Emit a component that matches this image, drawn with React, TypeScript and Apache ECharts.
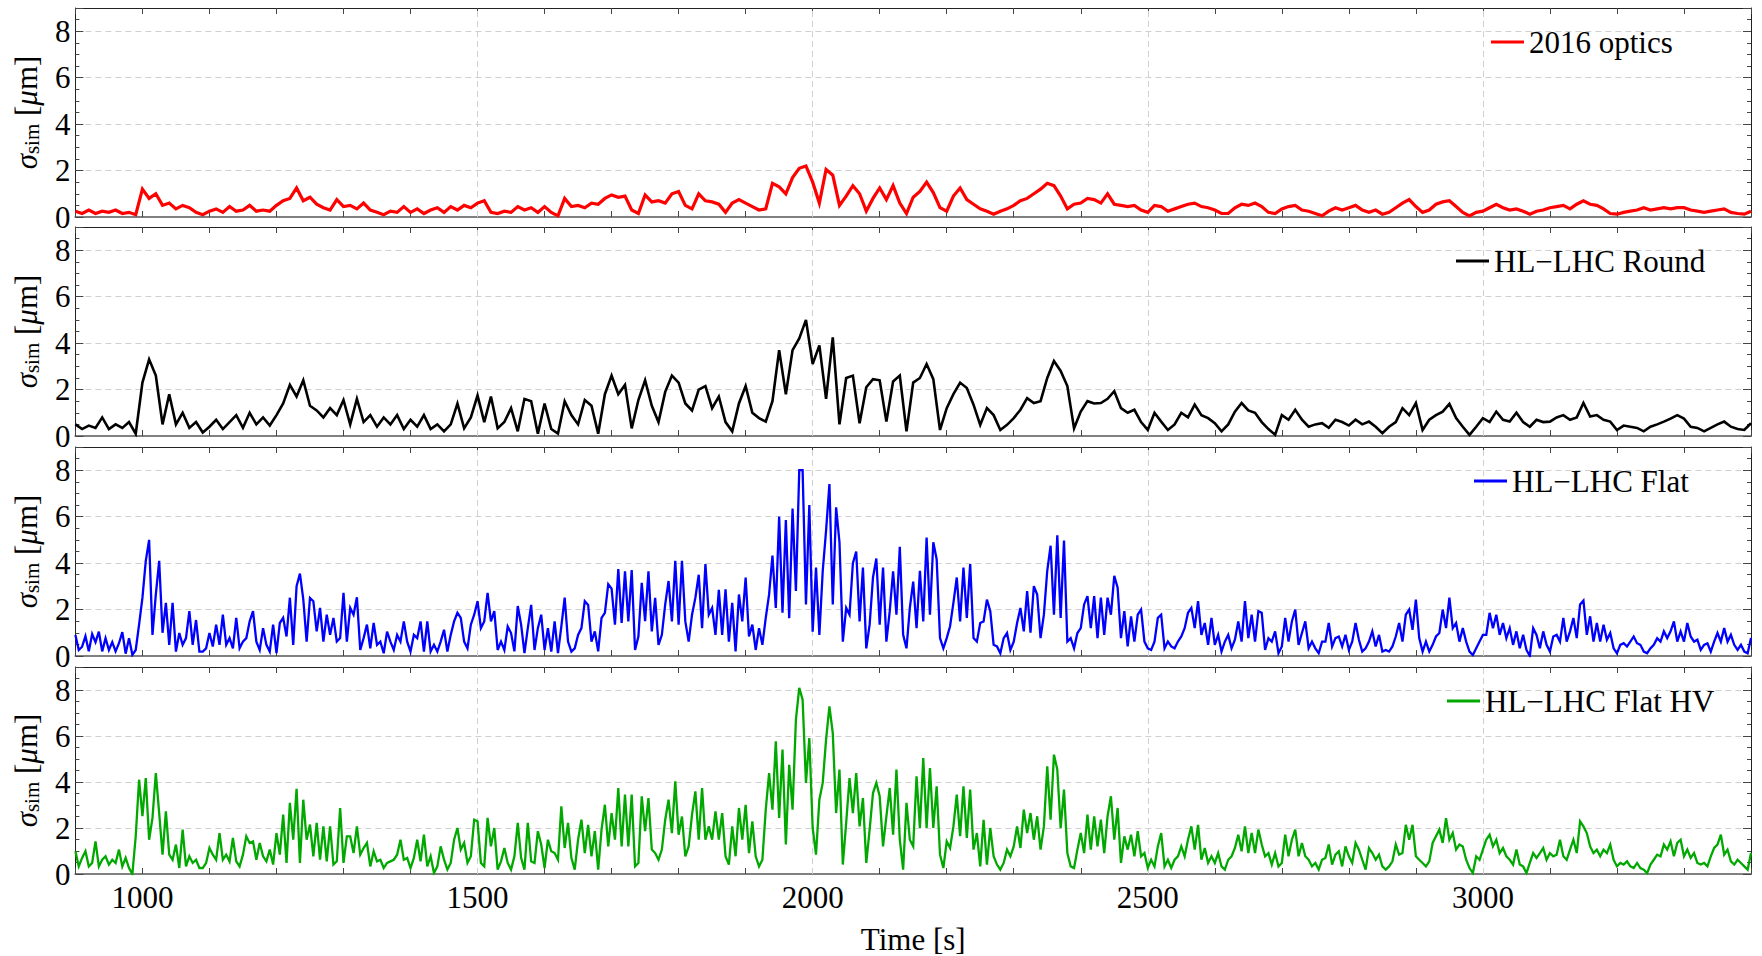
import { useEffect, useRef } from "react";
import * as echarts from "echarts";

// sampling grid of the simulated signals (seconds)
const T0 = 900;
const STEPS = [10, 10, 5, 5];

const SERIES_NAMES = ["2016 optics", "HL\u2212LHC Round", "HL\u2212LHC Flat", "HL\u2212LHC Flat HV"];
const COLORS = ["#ff0000", "#000000", "#0000ff", "#00a800"];
const LINE_WIDTHS = [3.2, 2.6, 2.3, 2.3];

const X_GRID_LINES = [1500, 2000, 2500, 3000];
const X_TICK_LABELS = [1000, 1500, 2000, 2500, 3000];
const Y_TICK_LABELS = [0, 2, 4, 6, 8];

// 10 s sampling
const OPTICS_2016 = [
  0.25, 0.15, 0.3, 0.15, 0.25, 0.2, 0.3, 0.15, 0.2, 0.1,
  1.2, 0.8, 1.0, 0.5, 0.6, 0.35, 0.5, 0.4, 0.2, 0.1,
  0.25, 0.35, 0.2, 0.45, 0.25, 0.3, 0.5, 0.25, 0.3, 0.25,
  0.5, 0.7, 0.8, 1.25, 0.7, 0.85, 0.55, 0.4, 0.3, 0.75,
  0.45, 0.5, 0.35, 0.6, 0.3, 0.2, 0.1, 0.25, 0.2, 0.45,
  0.2, 0.35, 0.15, 0.3, 0.4, 0.2, 0.45, 0.3, 0.5, 0.4,
  0.6, 0.7, 0.2, 0.15, 0.25, 0.2, 0.45, 0.3, 0.4, 0.2,
  0.45, 0.2, 0.05, 0.8, 0.45, 0.5, 0.4, 0.6, 0.55, 0.8,
  0.95, 0.85, 0.9, 0.3, 0.15, 0.95, 0.65, 0.7, 0.6, 1.0,
  1.1, 0.5, 0.35, 1.0, 0.7, 0.65, 0.55, 0.2, 0.6, 0.75,
  0.6, 0.45, 0.3, 0.35, 1.45, 1.3, 1.0, 1.7, 2.1, 2.2,
  1.5, 0.6, 2.05, 1.8, 0.5, 0.9, 1.35, 1.0, 0.25, 0.8,
  1.25, 0.75, 1.35, 0.6, 0.15, 0.85, 1.1, 1.5, 1.05, 0.4,
  0.25, 0.9, 1.25, 0.75, 0.55, 0.35, 0.25, 0.12, 0.25, 0.35,
  0.5, 0.7, 0.8, 1.0, 1.2, 1.45, 1.35, 0.9, 0.35, 0.55,
  0.6, 0.8, 0.75, 0.6, 1.0, 0.55, 0.5, 0.45, 0.5, 0.3,
  0.2, 0.5, 0.45, 0.25, 0.35, 0.45, 0.55, 0.6, 0.45, 0.4,
  0.3, 0.15, 0.15, 0.4, 0.55, 0.5, 0.6, 0.45, 0.2, 0.15,
  0.35, 0.45, 0.5, 0.3, 0.25, 0.15, 0.05, 0.25, 0.4, 0.3,
  0.4, 0.5, 0.3, 0.2, 0.3, 0.12, 0.2, 0.4, 0.6, 0.75,
  0.45, 0.2, 0.3, 0.55, 0.65, 0.7, 0.45, 0.2, 0.05, 0.2,
  0.25, 0.4, 0.55, 0.4, 0.3, 0.35, 0.25, 0.12, 0.25, 0.3,
  0.4, 0.45, 0.5, 0.35, 0.55, 0.7, 0.55, 0.5, 0.35, 0.15,
  0.12, 0.2, 0.25, 0.3, 0.4, 0.3, 0.35, 0.4, 0.35, 0.4,
  0.4, 0.3, 0.25, 0.2, 0.25, 0.3, 0.35, 0.2, 0.15, 0.12,
  0.25,
];

// 10 s sampling
const HL_ROUND = [
  0.5, 0.3, 0.45, 0.35, 0.8, 0.3, 0.5, 0.35, 0.6, 0.1,
  2.3, 3.3, 2.6, 0.5, 1.8, 0.5, 1.0, 0.35, 0.6, 0.15,
  0.4, 0.7, 0.3, 0.6, 0.9, 0.35, 1.0, 0.5, 0.8, 0.45,
  0.9, 1.4, 2.2, 1.7, 2.4, 1.3, 1.1, 0.8, 1.2, 0.9,
  1.55, 0.5, 1.6, 0.6, 0.9, 0.4, 0.8, 0.5, 0.9, 0.3,
  0.7, 0.4, 0.9, 0.3, 0.5, 0.2, 0.5, 1.4, 0.33, 0.8,
  1.75, 0.6, 1.7, 0.33, 0.6, 1.2, 0.2, 1.6, 1.5, 0.1,
  1.4, 0.3, 0.1, 1.5, 0.9, 0.5, 1.55, 1.3, 0.1, 1.8,
  2.6, 1.8, 2.2, 0.33, 1.55, 2.4, 1.3, 0.6, 1.9, 2.6,
  2.3, 1.4, 1.1, 2.0, 2.15, 1.2, 1.7, 0.6, 0.2, 1.4,
  2.15, 1.0, 0.77, 0.62, 1.5, 3.7, 1.8, 3.7, 4.2, 5.0,
  3.1, 3.9, 1.6, 4.25, 0.5, 2.5, 2.6, 0.55, 2.1, 2.45,
  2.4, 0.62, 2.35, 2.6, 0.2, 2.3, 2.5, 3.1, 2.45, 0.26,
  1.2, 1.8, 2.3, 2.07, 1.35, 0.48, 1.2, 0.9, 0.26, 0.48,
  0.77, 1.13, 1.63, 1.42, 1.5, 2.5, 3.23, 2.8, 2.15, 0.33,
  1.05, 1.5, 1.4, 1.42, 1.6, 1.93, 1.2, 1.0, 1.13, 0.6,
  0.26, 1.0, 0.62, 0.26, 0.5, 1.0, 0.8, 1.35, 0.9, 0.77,
  0.55, 0.2, 0.5, 1.05, 1.42, 1.1, 1.0, 0.6, 0.3, 0.05,
  0.9, 0.7, 1.13, 0.7, 0.4, 0.5, 0.55, 0.35, 0.7, 0.6,
  0.45, 0.7, 0.5, 0.62, 0.4, 0.12, 0.4, 0.6, 1.2, 0.9,
  1.42, 0.26, 0.7, 0.9, 1.05, 1.38, 0.77, 0.4, 0.05, 0.4,
  0.77, 0.6, 1.05, 0.7, 0.62, 1.0, 0.6, 0.4, 0.7, 0.6,
  0.62, 0.8, 0.9, 0.7, 0.8, 1.42, 0.84, 0.9, 0.7, 0.62,
  0.26, 0.45, 0.4, 0.35, 0.2, 0.4, 0.5, 0.62, 0.75, 0.9,
  0.75, 0.4, 0.35, 0.2, 0.35, 0.5, 0.62, 0.4, 0.3, 0.26,
  0.55,
];

// 5 s sampling
const HL_FLAT = [
  0.9, 0.26, 0.4, 0.85, 0.2, 0.95, 0.6, 1.05, 0.2, 0.77, 0.26, 0.6, 0.2, 0.55, 1.03, 0.1, 0.77, 0.05, 0.26, 1.35,
  2.5, 4.1, 5.0, 0.91, 2.65, 4.1, 1.0, 2.29, 0.48, 2.29, 0.19, 0.99, 0.48, 0.77, 1.93, 0.48, 1.55, 0.19, 0.19, 0.33,
  0.99, 0.41, 1.35, 0.48, 1.78, 0.48, 0.77, 0.33, 1.64, 0.33, 0.62, 0.77, 1.49, 1.93, 0.62, 0.26, 1.2, 0.48, 0.19, 1.35,
  0.12, 1.42, 1.64, 0.84, 2.51, 0.48, 3.01, 3.55, 2.45, 0.62, 2.5, 2.36, 1.06, 2.07, 0.62, 1.78, 0.91, 1.64, 0.62, 0.77,
  2.72, 0.62, 2.07, 1.78, 2.53, 0.26, 0.77, 1.35, 0.33, 1.42, 0.48, 0.62, 0.12, 1.05, 0.62, 0.26, 0.91, 0.62, 1.49, 0.62,
  0.19, 0.91, 0.77, 1.49, 0.19, 1.49, 0.19, 0.48, 0.19, 0.62, 1.13, 0.19, 0.91, 1.49, 1.86, 1.64, 0.62, 0.33, 1.35, 1.78,
  2.36, 1.2, 1.49, 2.72, 1.49, 1.93, 0.26, 0.62, 0.26, 1.27, 0.99, 0.2, 2.15, 1.35, 0.12, 1.2, 2.2, 0.26, 1.2, 1.78,
  0.26, 1.2, 0.19, 1.49, 0.12, 1.27, 2.51, 0.62, 0.19, 0.33, 0.91, 1.2, 2.36, 2.2, 0.62, 1.06, 0.2, 1.64, 1.86, 3.09,
  2.9, 1.35, 3.74, 1.42, 3.65, 1.49, 3.7, 0.26, 0.84, 3.15, 1.5, 3.65, 1.06, 2.5, 0.48, 0.91, 2.22, 3.23, 1.49, 4.1,
  1.35, 4.1, 1.49, 0.62, 1.78, 2.51, 3.5, 1.2, 3.96, 1.78, 2.07, 0.91, 2.85, 0.91, 2.87, 0.62, 2.29, 0.2, 2.65, 1.49,
  3.38, 0.84, 1.35, 0.26, 1.2, 0.48, 1.64, 2.65, 4.32, 2.07, 6.0, 1.86, 5.85, 1.63, 6.35, 2.8, 8.0, 8.0, 2.22, 6.5,
  1.05, 3.81, 0.91, 3.65, 5.4, 7.4, 2.22, 6.4, 4.9, 0.62, 2.07, 1.78, 4.0, 4.5, 1.49, 3.81, 0.33, 1.35, 3.38, 4.2,
  1.35, 3.81, 0.62, 1.93, 3.65, 1.78, 4.7, 0.91, 0.33, 2.07, 3.2, 1.2, 3.67, 1.49, 5.1, 1.78, 4.9, 4.17, 0.77, 0.33,
  0.77, 1.28, 2.29, 3.38, 1.49, 3.81, 1.64, 3.96, 0.77, 0.62, 1.42, 1.49, 2.43, 1.93, 0.48, 0.41, 0.12, 0.77, 0.99, 0.26,
  0.62, 1.42, 2.07, 1.06, 2.8, 1.0, 3.01, 2.65, 0.77, 1.78, 3.67, 4.75, 1.78, 5.2, 1.64, 4.97, 0.62, 0.77, 0.33, 0.99,
  1.2, 2.22, 2.58, 1.2, 2.58, 0.77, 2.51, 0.91, 2.51, 1.78, 3.45, 2.94, 0.77, 1.93, 0.41, 1.71, 0.62, 1.78, 2.0, 0.62,
  0.33, 0.26, 0.62, 1.64, 1.78, 0.33, 0.62, 0.41, 0.33, 0.62, 0.84, 1.2, 1.86, 2.07, 1.2, 2.36, 0.91, 1.42, 0.48, 1.64,
  0.48, 0.91, 0.19, 0.62, 0.91, 0.33, 0.7, 1.49, 0.62, 2.36, 0.77, 1.78, 0.62, 1.93, 1.86, 0.26, 0.77, 0.62, 1.06, 0.12,
  0.41, 1.64, 0.62, 1.49, 2.0, 0.48, 0.99, 1.49, 0.33, 0.62, 0.33, 0.12, 0.62, 0.62, 1.42, 0.41, 0.77, 0.84, 0.41, 0.91,
  0.26, 0.62, 1.42, 0.7, 0.19, 0.33, 0.62, 1.06, 0.41, 0.91, 0.19, 0.26, 0.19, 0.41, 0.84, 1.42, 0.62, 1.78, 2.0, 1.13,
  2.43, 0.77, 0.19, 0.62, 0.19, 0.48, 0.84, 0.99, 2.0, 1.2, 2.51, 1.2, 1.42, 0.62, 1.2, 0.62, 0.19, 0.04, 0.33, 0.62,
  0.91, 0.91, 1.86, 1.2, 1.78, 0.91, 1.42, 0.77, 1.2, 0.48, 1.06, 0.33, 0.91, 0.26, 0.0, 1.2, 0.91, 0.33, 1.06, 0.48,
  0.19, 0.84, 0.91, 0.62, 1.64, 0.62, 1.06, 1.64, 0.77, 2.22, 2.39, 0.91, 1.71, 0.62, 1.42, 0.62, 1.35, 0.7, 0.99, 0.33,
  0.12, 0.48, 0.55, 0.41, 0.62, 0.84, 0.55, 0.48, 0.19, 0.12, 0.33, 0.48, 0.77, 0.62, 1.06, 0.77, 1.06, 1.49, 0.62, 1.06,
  0.62, 1.42, 0.84, 0.62, 0.7, 0.26, 0.48, 0.55, 0.19, 0.62, 0.99, 0.62, 1.2, 0.62, 0.91, 0.48, 0.26, 0.48, 0.19, 0.12,
  0.77,
];

// 5 s sampling
const HL_FLAT_HV = [
  0.99, 0.33, 0.7, 0.99, 0.33, 0.48, 1.42, 0.33, 0.62, 0.77, 0.41, 0.62, 0.48, 1.06, 0.33, 0.7, 0.26, 0.0, 1.64, 4.1,
  2.51, 4.17, 1.49, 2.44, 4.39, 2.65, 0.84, 2.72, 0.84, 0.62, 1.28, 0.26, 1.93, 0.33, 0.77, 0.48, 0.62, 0.26, 0.26, 0.48,
  1.13, 0.84, 0.62, 1.78, 0.62, 0.84, 0.55, 1.57, 0.55, 0.33, 0.84, 1.64, 1.35, 1.42, 0.62, 1.35, 0.77, 0.55, 1.06, 0.41,
  1.78, 0.84, 2.58, 0.48, 3.09, 1.49, 3.7, 0.48, 3.23, 1.49, 2.15, 0.77, 2.22, 0.62, 2.07, 0.55, 2.07, 0.41, 0.55, 2.87,
  0.48, 1.64, 1.64, 0.91, 2.07, 0.84, 1.13, 1.35, 0.33, 0.99, 0.55, 0.62, 0.26, 0.48, 0.55, 0.62, 0.84, 1.49, 0.62, 0.7,
  0.26, 0.7, 1.49, 0.55, 1.71, 0.33, 0.77, 0.04, 0.33, 1.2, 0.62, 0.19, 0.48, 1.49, 2.0, 1.06, 1.35, 0.48, 0.77, 2.36,
  2.29, 0.48, 0.33, 2.44, 1.2, 2.0, 0.19, 0.55, 1.13, 0.48, 0.19, 0.77, 2.22, 0.7, 0.19, 2.22, 0.55, 0.48, 1.86, 1.28,
  0.26, 1.49, 0.99, 0.91, 0.62, 2.94, 1.13, 2.22, 0.7, 0.19, 1.49, 2.36, 0.91, 2.14, 0.77, 1.86, 0.19, 1.93, 3.01, 1.2,
  2.65, 1.49, 3.74, 1.2, 3.45, 1.2, 3.45, 0.33, 0.48, 3.38, 1.86, 3.3, 1.06, 0.91, 0.62, 1.06, 2.36, 3.23, 1.78, 4.03,
  1.71, 2.5, 0.77, 1.2, 2.58, 3.59, 1.49, 3.74, 1.49, 2.07, 1.49, 2.72, 1.49, 2.65, 0.77, 0.41, 2.07, 0.77, 2.87, 1.49,
  3.01, 0.91, 2.29, 0.77, 0.33, 0.62, 2.8, 4.39, 2.8, 5.77, 2.44, 5.41, 1.28, 4.75, 2.8, 6.71, 8.09, 7.58, 3.96, 5.91,
  2.0, 0.84, 3.23, 3.96, 5.84, 7.29, 6.13, 2.65, 4.54, 0.41, 2.22, 4.17, 2.65, 4.39, 2.07, 3.3, 0.48, 1.93, 3.52, 3.96,
  3.38, 1.2, 2.51, 3.74, 1.71, 4.54, 1.49, 0.19, 3.09, 1.49, 1.2, 4.25, 2.0, 5.04, 2.0, 4.61, 2.0, 3.81, 0.84, 0.26,
  1.42, 1.13, 2.07, 3.45, 1.64, 3.81, 1.57, 3.67, 1.06, 1.78, 0.33, 2.36, 0.41, 2.0, 0.77, 0.41, 0.19, 0.48, 1.06, 0.77,
  1.2, 2.07, 1.13, 2.8, 1.78, 2.65, 1.49, 2.51, 1.06, 2.07, 4.68, 2.36, 5.19, 4.54, 1.99, 3.67, 0.91, 0.33, 0.26, 1.06,
  1.78, 0.91, 2.58, 1.06, 2.51, 1.2, 2.36, 0.91, 2.51, 3.38, 1.49, 2.87, 0.48, 1.64, 1.06, 1.71, 0.77, 1.86, 0.77, 0.91,
  0.26, 0.62, 0.33, 1.2, 1.78, 0.33, 0.62, 0.26, 0.62, 0.77, 1.2, 0.77, 1.49, 2.07, 1.06, 2.14, 0.62, 1.13, 0.48, 0.77,
  0.48, 0.91, 0.33, 0.19, 0.62, 0.77, 1.13, 1.71, 0.99, 2.07, 0.91, 1.78, 0.91, 1.93, 1.28, 0.77, 0.91, 0.41, 0.91, 0.33,
  0.48, 1.71, 0.77, 1.49, 1.93, 0.77, 1.35, 0.77, 0.62, 0.33, 0.48, 0.19, 0.62, 0.7, 1.28, 0.41, 0.84, 0.99, 0.33, 1.2,
  0.77, 0.48, 1.35, 1.06, 0.62, 0.19, 1.13, 0.91, 0.62, 0.84, 0.33, 0.19, 0.33, 0.55, 1.28, 0.84, 0.91, 2.14, 1.49, 2.14,
  0.77, 0.62, 0.48, 0.33, 0.55, 1.35, 1.64, 1.93, 1.35, 2.43, 1.49, 1.78, 1.06, 1.28, 1.2, 0.62, 0.26, 0.04, 0.77, 0.62,
  1.06, 1.49, 1.71, 1.2, 1.49, 0.91, 1.13, 0.77, 0.62, 0.41, 1.06, 0.41, 0.33, 0.04, 0.48, 0.91, 0.7, 0.91, 1.13, 0.62,
  0.91, 0.77, 0.84, 1.49, 0.77, 0.62, 1.06, 1.49, 0.91, 2.29, 2.07, 1.78, 1.2, 0.91, 1.06, 0.77, 1.06, 0.91, 1.28, 0.62,
  0.33, 0.48, 0.41, 0.55, 0.33, 0.26, 0.48, 0.26, 0.19, 0.04, 0.41, 0.62, 0.84, 0.77, 1.28, 1.06, 1.42, 0.77, 1.35, 1.49,
  0.77, 1.06, 0.7, 0.91, 0.48, 0.41, 0.48, 0.33, 0.77, 1.13, 1.28, 1.71, 0.84, 1.06, 0.55, 0.41, 0.62, 0.48, 0.33, 0.19,
  0.91,
];

const SERIES_VALUES = [OPTICS_2016, HL_ROUND, HL_FLAT, HL_FLAT_HV];

// layout
const W = 1762;
const H = 956;
const GRID_LEFT = 75;
const GRID_RIGHT = 11;
const PANEL_TOPS = [8, 227, 447, 667];
const PANEL_H = 209;
const LEGEND_LEFTS = [1491, 1456, 1474, 1447];
const FONT = "Liberation Serif";
const FS = 31;

export default function App() {
  const ref = useRef<HTMLDivElement>(null);

  useEffect(() => {
    if (!ref.current) return;
    const chart = echarts.init(ref.current, undefined, { renderer: "svg" });

    const grids: any[] = [];
    const xAxes: any[] = [];
    const yAxes: any[] = [];
    const series: any[] = [];
    const legends: any[] = [];

    const dashed = { type: [6, 4], color: "#d0d0d0", width: 1 };

    SERIES_VALUES.forEach((vals, i) => {
      const top = PANEL_TOPS[i];
      grids.push({ left: GRID_LEFT, right: GRID_RIGHT, top, height: PANEL_H, containLabel: false });
      const isLast = i === SERIES_VALUES.length - 1;
      xAxes.push({
        type: "value",
        gridIndex: i,
        position: "bottom",
        min: 900,
        max: 3400,
        interval: 100,
        axisLine: { show: true, onZero: false, lineStyle: { color: "#808080", width: 2 } },
        axisTick: { show: true, inside: true, length: 6, lineStyle: { color: "#444", width: 1 } },
        axisLabel: {
          show: isLast,
          margin: 8,
          color: "#000",
          fontFamily: FONT,
          fontSize: FS,
          formatter: (v: number) => (X_TICK_LABELS.indexOf(v) >= 0 ? String(v) : ""),
        },
        splitLine: { show: false },
        name: isLast ? "Time [s]" : "",
        nameLocation: "middle",
        nameGap: 50,
        nameTextStyle: { color: "#000", fontFamily: FONT, fontSize: FS },
      });
      xAxes.push({
        type: "value",
        gridIndex: i,
        position: "top",
        min: 900,
        max: 3400,
        interval: 100,
        axisLine: { show: true, onZero: false, lineStyle: { color: "#222", width: 1 } },
        axisTick: { show: true, inside: true, length: 6, lineStyle: { color: "#444", width: 1 } },
        axisLabel: { show: false },
        splitLine: { show: false },
      });
      yAxes.push({
        type: "value",
        gridIndex: i,
        position: "left",
        min: 0,
        max: 9,
        interval: 2,
        axisLine: { show: true, onZero: false, lineStyle: { color: "#222", width: 1 } },
        axisTick: { show: true, inside: true, length: 8, lineStyle: { color: "#444", width: 1 } },
        minorTick: { show: true, splitNumber: 4, length: 4, lineStyle: { color: "#444", width: 1 } },
        axisLabel: {
          show: true,
          margin: 5,
          color: "#000",
          fontFamily: FONT,
          fontSize: FS,
          formatter: (v: number) => (Y_TICK_LABELS.indexOf(v) >= 0 ? String(v) : ""),
        },
        splitLine: { show: true, lineStyle: dashed },
        name: "{it|\u03c3}{sub|sim} [{it|\u03bc}m]",
        nameLocation: "middle",
        nameRotate: 90,
        nameGap: 26,
        nameTextStyle: {
          color: "#000",
          fontFamily: FONT,
          fontSize: FS,
          lineHeight: 36,
          rich: {
            it: { fontFamily: FONT, fontSize: FS, fontStyle: "italic", color: "#000", lineHeight: 36 },
            sub: { fontFamily: FONT, fontSize: 21, color: "#000", lineHeight: 22, padding: [12, 0, 0, 0] },
          },
        },
      });
      yAxes.push({
        type: "value",
        gridIndex: i,
        position: "right",
        min: 0,
        max: 9,
        interval: 2,
        axisLine: { show: true, onZero: false, lineStyle: { color: "#222", width: 1 } },
        axisTick: { show: true, inside: true, length: 8, lineStyle: { color: "#444", width: 1 } },
        minorTick: { show: true, splitNumber: 4, length: 4, lineStyle: { color: "#444", width: 1 } },
        axisLabel: { show: false },
        splitLine: { show: false },
      });

      const step = STEPS[i];
      series.push({
        type: "line",
        name: SERIES_NAMES[i],
        xAxisIndex: 2 * i,
        yAxisIndex: 2 * i,
        data: vals.map((v, k) => [T0 + k * step, v]),
        showSymbol: false,
        symbol: "none",
        silent: true,
        z: 10,
        color: COLORS[i],
        lineStyle: { color: COLORS[i], width: LINE_WIDTHS[i], join: "miter" },
        markLine: {
          z: 1,
          silent: true,
          symbol: ["none", "none"],
          label: { show: false },
          lineStyle: dashed,
          data: X_GRID_LINES.map((x) => ({ xAxis: x })),
        },
      });

      legends.push({
        data: [SERIES_NAMES[i]],
        left: LEGEND_LEFTS[i],
        top: top + 18,
        padding: 0,
        icon: "rect",
        itemWidth: 33,
        itemHeight: 3,
        selectedMode: false,
        textStyle: { color: "#000", fontFamily: FONT, fontSize: FS, lineHeight: 32 },
      });
    });

    chart.setOption({
      animation: false,
      backgroundColor: "#ffffff",
      grid: grids,
      xAxis: xAxes,
      yAxis: yAxes,
      series,
      legend: legends,
    });

    return () => chart.dispose();
  }, []);

  return (
    <div
      ref={ref}
      style={{ position: "absolute", left: 0, top: 0, width: W, height: H, background: "#fff" }}
    />
  );
}
